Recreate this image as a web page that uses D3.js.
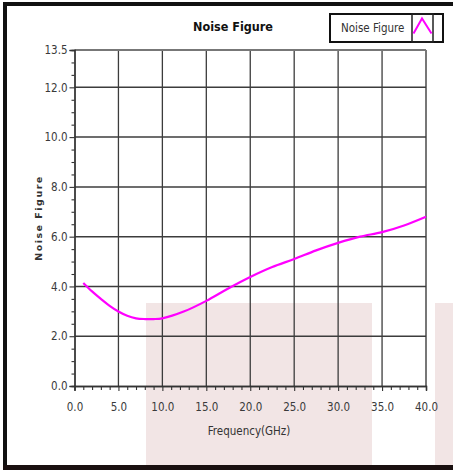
<!DOCTYPE html>
<html>
<head>
<meta charset="utf-8">
<script src="https://cdn.jsdelivr.net/npm/d3@7"></script>
<style>
  html, body { margin: 0; padding: 0; background: #fff; }
  svg { display: block; }
</style>
</head>
<body>
<svg id="chart" width="453" height="470"></svg>
<script>
// Measured noise figure (dB) versus frequency (GHz)
const frequencyGHz = [1, 2, 3, 4, 5, 6, 7, 8, 9, 10, 12.5, 15, 17.5, 20, 22.5, 25, 27.5, 30, 32.5, 35, 37.5, 40];
const noiseFigure  = [4.14, 3.80, 3.50, 3.22, 2.99, 2.82, 2.72, 2.69, 2.69, 2.72, 3.0, 3.42, 3.92, 4.38, 4.78, 5.1, 5.45, 5.75, 6.0, 6.18, 6.45, 6.8];

// Axis ticks
const xMajorTicks = [0, 5, 10, 15, 20, 25, 30, 35, 40];
const yMajorTicks = [0, 2, 4, 6, 8, 10, 12, 13.5];

const titleText = "Noise Figure";
const xTitle = "Frequency(GHz)";
const yTitle = "Noise Figure";
const seriesName = "Noise Figure";

const svg = d3.select("#chart");
const W = 453, H = 470;
const font = "'Liberation Sans Narrow', 'DejaVu Sans Condensed', 'Liberation Sans', sans-serif";

const x = d3.scaleLinear().domain([0, 40]).range([74.5, 426]);
const y = d3.scaleLinear().domain([0, 13.5]).range([386, 50]);

// pale tinted panels behind the lower part of the chart
svg.append("rect").attr("x", 146).attr("y", 303).attr("width", 226).attr("height", H - 303).attr("fill", "#f2e5e5");
svg.append("rect").attr("x", 435).attr("y", 303).attr("width", 18).attr("height", H - 303).attr("fill", "#f2e5e5");

// outer frame: top, left, bottom bars
svg.append("rect").attr("x", 3).attr("y", 2).attr("width", W - 3).attr("height", 4).attr("fill", "#111");
svg.append("rect").attr("x", 3).attr("y", 2).attr("width", 4).attr("height", H - 2).attr("fill", "#111");
svg.append("rect").attr("x", 3).attr("y", 465).attr("width", W - 3).attr("height", 5).attr("fill", "#1a1010");

// title
svg.append("text").attr("x", 233).attr("y", 31).attr("text-anchor", "middle")
  .attr("font-family", font).attr("font-weight", "bold").attr("font-size", 12.5)
  .attr("fill", "#111").text(titleText);

const g = svg.append("g");

// grid lines
g.selectAll("line.vgrid").data(xMajorTicks.slice(1)).join("line")
  .attr("class", "vgrid")
  .attr("x1", d => x(d)).attr("x2", d => x(d))
  .attr("y1", y(13.5)).attr("y2", y(0))
  .attr("stroke", d => d === 40 ? "#777" : "#3c3c3c").attr("stroke-width", d => d === 40 ? 2 : 1.3);
g.selectAll("line.hgrid").data(yMajorTicks.slice(1)).join("line")
  .attr("class", "hgrid")
  .attr("x1", x(0)).attr("x2", x(40))
  .attr("y1", d => y(d)).attr("y2", d => y(d))
  .attr("stroke", d => d === 13.5 ? "#777" : "#3c3c3c").attr("stroke-width", d => d === 13.5 ? 2 : 1.5);

// axes
const yAxis = d3.axisLeft(y).tickValues(yMajorTicks).tickFormat(d3.format(".1f")).tickSize(5).tickPadding(2);
const yMinor = d3.axisLeft(y).tickValues(d3.range(0.5, 13.5, 0.5).filter(v => !yMajorTicks.includes(v))).tickFormat("").tickSize(3);
const xAxis = d3.axisBottom(x).tickValues(xMajorTicks).tickFormat(d3.format(".1f")).tickSize(5).tickPadding(12);
const xMinor = d3.axisBottom(x).tickValues(d3.range(1, 40, 1).filter(v => v % 5 !== 0)).tickFormat("").tickSize(4);

function styleAxis(sel) {
  sel.select(".domain").attr("stroke", "#333").attr("stroke-width", 1.3);
  sel.selectAll(".tick line").attr("stroke", "#333").attr("stroke-width", 1.1);
  sel.selectAll(".tick text").attr("font-family", font).attr("font-size", 11.5).attr("fill", "#3a3a3a");
}
g.append("g").attr("transform", `translate(${x(0)},0)`).call(yMinor).call(styleAxis);
g.append("g").attr("transform", `translate(${x(0)},0)`).call(yAxis).call(styleAxis);
g.append("g").attr("transform", `translate(0,${y(0)})`).call(xMinor).call(styleAxis);
g.append("g").attr("transform", `translate(0,${y(0)})`).call(xAxis).call(styleAxis);

// axis titles
svg.append("text").attr("x", 249).attr("y", 435).attr("text-anchor", "middle")
  .attr("font-family", font).attr("font-size", 11.5).attr("fill", "#333").text(xTitle);
svg.append("text").attr("transform", "translate(42,218) rotate(-90)").attr("text-anchor", "middle")
  .attr("font-family", "'DejaVu Sans', sans-serif").attr("font-weight", "bold").attr("font-size", 9.5)
  .attr("letter-spacing", 1.5).attr("fill", "#333").text(yTitle);

// noise figure curve
const line = d3.line().x((d, i) => x(frequencyGHz[i])).y(d => y(d)).curve(d3.curveCatmullRom.alpha(0.5));
g.append("path").datum(noiseFigure).attr("d", line)
  .attr("fill", "none").attr("stroke", "#ff00ff").attr("stroke-width", 2.2);

// legend
const lg = svg.append("g");
lg.append("rect").attr("x", 330).attr("y", 14).attr("width", 113).attr("height", 28)
  .attr("fill", "#fff").attr("stroke", "#111").attr("stroke-width", 2);
lg.append("rect").attr("x", 412).attr("y", 14).attr("width", 21).attr("height", 28)
  .attr("fill", "none").attr("stroke", "#222").attr("stroke-width", 1.5);
lg.append("text").attr("x", 341).attr("y", 32).attr("font-family", font).attr("font-size", 11.5)
  .attr("fill", "#333").text(seriesName);
lg.append("path").attr("d", "M413.5,33.5 L422,18.5 L431.5,33.5")
  .attr("fill", "none").attr("stroke", "#ff00ff").attr("stroke-width", 2);
</script>
</body>
</html>
